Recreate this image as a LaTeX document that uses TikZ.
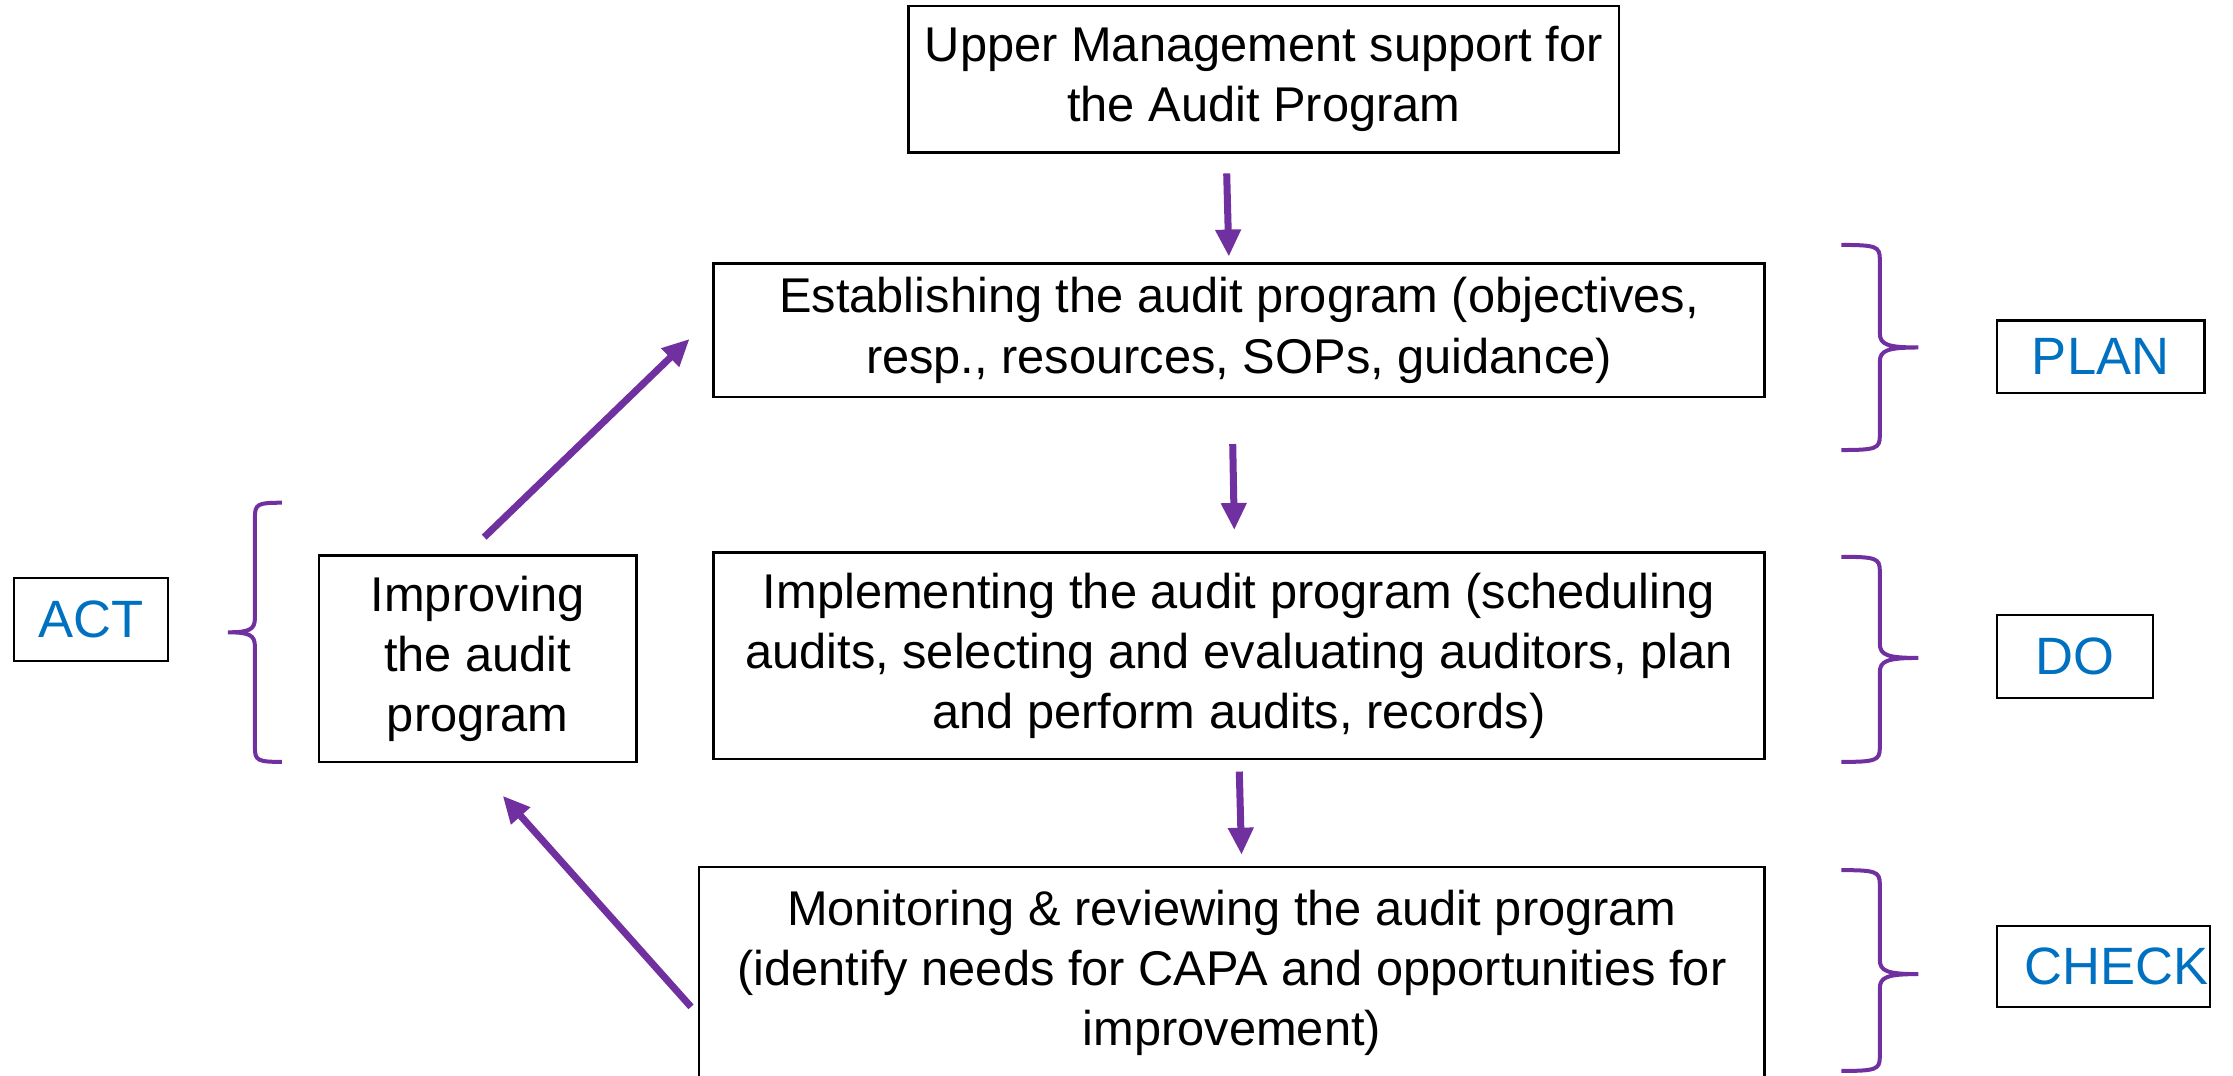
\documentclass[tikz,border=0pt]{standalone}
\usepackage{fontspec}
\setmainfont{Liberation Sans}
\usepackage{xcolor}
\usetikzlibrary{arrows.meta}
\definecolor{pdcapurple}{HTML}{7030A0}
\definecolor{pdcablue}{HTML}{0070C0}
\tikzset{
	stage/.style={draw, line width=0.9pt, align=center, inner sep=0pt,
			font=\fontsize{19.5}{24}\selectfont},
	phase/.style={draw, line width=0.9pt, inner sep=0pt, text=pdcablue,
			font=\fontsize{21}{24}\selectfont},
	flow/.style={pdcapurple, line width=2.8pt, -{Triangle[length=0.38cm,width=0.34cm]}},
	curly/.style={pdcapurple, line width=1.6pt}
}
% #1 x of the ends, #2 top, #3 bottom, #4 y of the tip, #5 width (negative: tip to the left)
\newcommand{\sidebrace}[5]{%
	\draw[curly] (#1,#2) .. controls ({#1+0.45*#5},#2) and ({#1+0.5*#5},{#2-0.02}) .. ({#1+0.5*#5},{#2-0.2})
		-- ({#1+0.5*#5},{#4+0.2})
		.. controls ({#1+0.5*#5},{#4+0.04}) and ({#1+0.6*#5},#4) .. ({#1+#5},#4)
		.. controls ({#1+0.6*#5},#4) and ({#1+0.5*#5},{#4-0.04}) .. ({#1+0.5*#5},{#4-0.2})
		-- ({#1+0.5*#5},{#3+0.2})
		.. controls ({#1+0.5*#5},{#3+0.02}) and ({#1+0.45*#5},#3) .. (#1,#3);
}

\begin{document}
\begin{tikzpicture}
	\useasboundingbox (0,0) rectangle (31.36,-15.1);
	% the program steps
	\node[stage, minimum width=9.98cm, minimum height=2.06cm] (upper) at (17.75,-1.11)
		{Upper Management support for\\the Audit Program};
	\node[stage, minimum width=14.76cm, minimum height=1.88cm] (estab) at (17.4,-4.64)
		{Establishing the audit program (objectives,\\resp., resources, SOPs, guidance)};
	\node[stage, minimum width=14.76cm, minimum height=2.9cm] (impl) at (17.4,-9.21)
		{Implementing the audit program (scheduling\\audits, selecting and evaluating auditors, plan\\and perform audits, records)};
	\node[stage, minimum width=14.96cm, minimum height=2.96cm] (monit) at (17.3,-13.66)
		{Monitoring \& reviewing the audit program\\(identify needs for CAPA and opportunities for\\improvement)};
	\node[stage, minimum width=4.46cm, minimum height=2.9cm] (improve) at (6.71,-9.25)
		{Improving\\the audit\\program};
	% PDCA labels
	\node[phase, minimum width=2.16cm, minimum height=1.16cm] (act) at (1.28,-8.7) {ACT};
	\node[phase, minimum width=2.92cm, minimum height=1.02cm] (plan) at (29.5,-5.01) {PLAN};
	\node[phase, minimum width=2.2cm, minimum height=1.16cm] (do) at (29.14,-9.22) {DO};
	\node[phase, minimum width=3.0cm, minimum height=1.14cm, text width=2.96cm, align=right] (check) at (29.54,-13.57) {CHECK};
	% arrows
	\draw[flow, shorten <=0.28cm, shorten >=0.08cm] ([xshift=-0.53cm]upper.south) -- ([xshift=-0.14cm]estab.north);
	\draw[flow, shorten <=0.64cm, shorten >=0.3cm] ([xshift=-0.1cm]estab.south) -- ([xshift=-0.06cm]impl.north);
	\draw[flow, shorten <=0.16cm, shorten >=0.16cm] (impl.south) -- ([xshift=0.04cm]monit.north -| impl.south);
	\draw[flow] ([shift={(0.09,0.24)}]improve.north) -- ([shift={(-0.32,-0.12)}]estab.west);
	\draw[flow] ([shift={(-0.1,-0.48)}]monit.west) -- ([shift={(0.35,-0.46)}]improve.south);
	% braces
	\sidebrace{25.86}{-3.44}{-6.32}{-4.88}{1.08}
	\sidebrace{25.86}{-7.82}{-10.7}{-9.24}{1.08}
	\sidebrace{25.86}{-12.22}{-15.04}{-13.68}{1.08}
	\sidebrace{3.96}{-7.06}{-10.7}{-8.88}{-0.76}
\end{tikzpicture}
\end{document}
